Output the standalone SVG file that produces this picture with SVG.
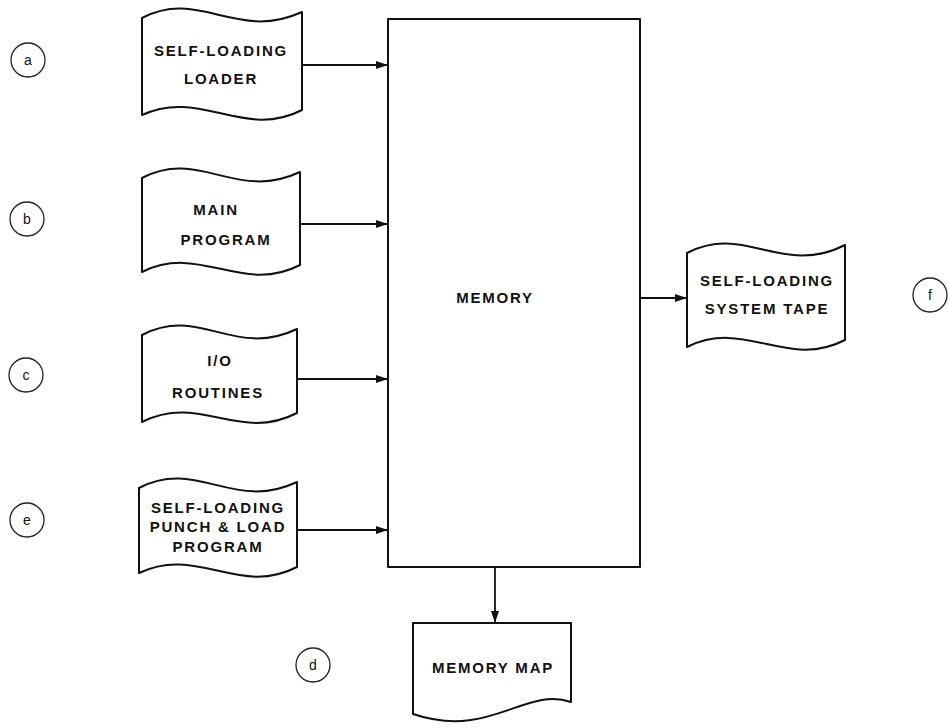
<svg xmlns="http://www.w3.org/2000/svg" width="949" height="728" viewBox="0 0 949 728">
<defs>
<marker id="ah" viewBox="0 0 12 8" refX="12" refY="4" markerWidth="12" markerHeight="8" markerUnits="userSpaceOnUse" orient="auto">
<path d="M0,0 L12,4 L0,8 Z" fill="#111"/>
</marker>
<style>
.shape{fill:#fff;stroke:#111;stroke-width:2;stroke-linejoin:round}
.lbl{font-family:"Liberation Sans",Arial,sans-serif;font-size:15px;font-weight:bold;letter-spacing:1.8px;fill:#111;text-anchor:middle}
.circ{fill:none;stroke:#222;stroke-width:1.3}
.cl{font-family:"Liberation Sans",Arial,sans-serif;font-size:14px;fill:#111;text-anchor:middle}
.conn{stroke:#111;stroke-width:1.8;fill:none}
</style>
</defs>
<rect width="949" height="728" fill="#fff"/>

<g id="memory">
<rect class="shape" x="388" y="19" width="252" height="548"/>
<text class="lbl" x="495" y="303">MEMORY</text>
</g>

<g id="tape-a">
<path class="shape" d="M142,18 C200,-12 236,42 302,12 L302,110 C244,140 200,88 142,115 Z"/>
<text class="lbl" x="221" y="56">SELF-LOADING</text>
<text class="lbl" x="221" y="84">LOADER</text>
</g>

<g id="tape-b">
<path class="shape" d="M142,178 C200,148 236,202 300,172 L300,265 C242,295 200,243 142,272 Z"/>
<text class="lbl" x="216" y="215">MAIN</text>
<text class="lbl" x="226" y="245">PROGRAM</text>
</g>

<g id="tape-c">
<path class="shape" d="M142,335 C200,305 234,359 297,329 L297,413 C239,443 200,393 142,422 Z"/>
<text class="lbl" x="220" y="366">I/O</text>
<text class="lbl" x="218" y="398">ROUTINES</text>
</g>

<g id="tape-e">
<path class="shape" d="M139,488 C197,458 234,512 297,482 L297,567 C239,597 197,545 139,573 Z"/>
<text class="lbl" x="218" y="513">SELF-LOADING</text>
<text class="lbl" x="218" y="532">PUNCH &amp; LOAD</text>
<text class="lbl" x="218" y="552">PROGRAM</text>
</g>

<g id="tape-f">
<path class="shape" d="M687,253 C745,223 782,277 845,245 L845,340 C787,370 745,318 687,347 Z"/>
<text class="lbl" x="767" y="286">SELF-LOADING</text>
<text class="lbl" x="767" y="314">SYSTEM TAPE</text>
</g>

<g id="memory-map">
<path class="shape" d="M413,623 L571,623 L571,702 C525,686 490,740 413,714 Z"/>
<text class="lbl" x="493" y="673">MEMORY MAP</text>
</g>

<g id="circle-a"><circle class="circ" cx="28" cy="60" r="17"/><text class="cl" x="28" y="65">a</text></g>
<g id="circle-b"><circle class="circ" cx="27" cy="219" r="17"/><text class="cl" x="27" y="224">b</text></g>
<g id="circle-c"><circle class="circ" cx="26" cy="375" r="17"/><text class="cl" x="26" y="380">c</text></g>
<g id="circle-e"><circle class="circ" cx="27" cy="520" r="17"/><text class="cl" x="27" y="525">e</text></g>
<g id="circle-d"><circle class="circ" cx="313" cy="665" r="17"/><text class="cl" x="313" y="670">d</text></g>
<g id="circle-f"><circle class="circ" cx="930" cy="295" r="17"/><text class="cl" x="930" y="300">f</text></g>

<g id="connectors">
<line class="conn" x1="302" y1="65" x2="388" y2="65" marker-end="url(#ah)"/>
<line class="conn" x1="300" y1="224" x2="388" y2="224" marker-end="url(#ah)"/>
<line class="conn" x1="297" y1="379" x2="388" y2="379" marker-end="url(#ah)"/>
<line class="conn" x1="297" y1="530" x2="388" y2="530" marker-end="url(#ah)"/>
<line class="conn" x1="640" y1="298" x2="687" y2="298" marker-end="url(#ah)"/>
<line class="conn" x1="495" y1="567" x2="495" y2="623" marker-end="url(#ah)"/>
</g>
</svg>
